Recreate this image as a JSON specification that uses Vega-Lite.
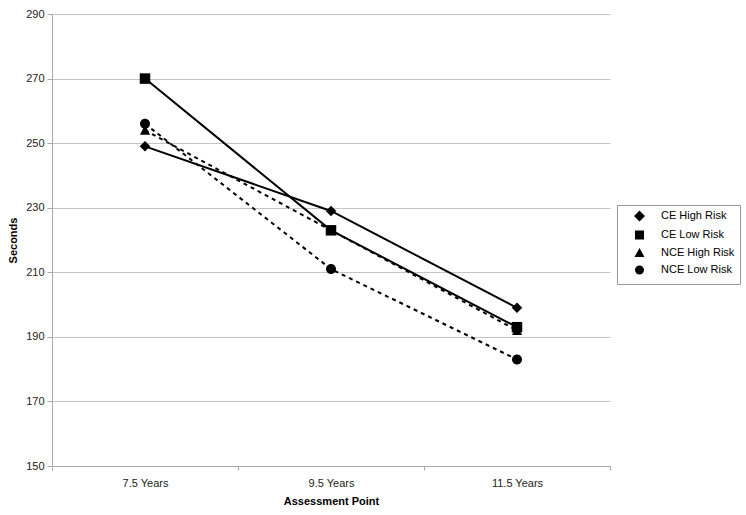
{
  "$schema": "https://vega.github.io/schema/vega-lite/v6.json",
  "width": 558,
  "height": 452,
  "autosize": {"type": "none"},
  "padding": {"left": 52, "top": 14, "right": 136, "bottom": 49},
  "background": "white",
  "config": {
    "font": "Liberation Sans",
    "view": {"stroke": null},
    "axis": {
      "labelFont": "Liberation Sans",
      "labelFontSize": 11,
      "labelColor": "#222",
      "titleFont": "Liberation Sans",
      "titleFontSize": 11,
      "titleFontWeight": "bold",
      "titleColor": "#000",
      "domainColor": "#aaa",
      "tickColor": "#aaa",
      "gridColor": "#c4c4c4",
      "tickSize": 5
    },
    "legend": {
      "orient": "none",
      "legendX": 565,
      "legendY": 191,
      "strokeColor": "#999",
      "fillColor": "white",
      "padding": 5,
      "rowPadding": 0,
      "symbolSize": 100,
      "symbolStrokeWidth": 2,
      "symbolStrokeColor": "black",
      "symbolFillColor": "black",
      "symbolOpacity": 1,
      "labelOffset": 27,
      "labelFont": "Liberation Sans",
      "labelFontSize": 11,
      "labelColor": "#000"
    }
  },
  "data": {
    "values": [
      {"point": "7.5 Years", "series": "CE High Risk", "seconds": 249},
      {"point": "9.5 Years", "series": "CE High Risk", "seconds": 229},
      {"point": "11.5 Years", "series": "CE High Risk", "seconds": 199},
      {"point": "7.5 Years", "series": "CE Low Risk", "seconds": 270},
      {"point": "9.5 Years", "series": "CE Low Risk", "seconds": 223},
      {"point": "11.5 Years", "series": "CE Low Risk", "seconds": 193},
      {"point": "7.5 Years", "series": "NCE High Risk", "seconds": 254},
      {"point": "9.5 Years", "series": "NCE High Risk", "seconds": 223},
      {"point": "11.5 Years", "series": "NCE High Risk", "seconds": 192},
      {"point": "7.5 Years", "series": "NCE Low Risk", "seconds": 256},
      {"point": "9.5 Years", "series": "NCE Low Risk", "seconds": 211},
      {"point": "11.5 Years", "series": "NCE Low Risk", "seconds": 183}
    ]
  },
  "encoding": {
    "x": {
      "field": "point",
      "type": "ordinal",
      "sort": ["7.5 Years", "9.5 Years", "11.5 Years"],
      "scale": {"type": "band", "paddingInner": 0, "paddingOuter": 0},
      "axis": {"title": "Assessment Point", "labelAngle": 0, "tickBand": "extent", "grid": false, "labelPadding": 7, "titlePadding": 7, "tickSize": 4}
    },
    "y": {
      "field": "seconds",
      "type": "quantitative",
      "scale": {"domain": [150, 290], "nice": false, "zero": false},
      "axis": {"title": "Seconds", "values": [150, 170, 190, 210, 230, 250, 270, 290], "labelPadding": 3, "titlePadding": 7}
    }
  },
  "layer": [
    {
      "transform": [{"filter": {"field": "series", "oneOf": ["CE High Risk", "CE Low Risk"]}}],
      "mark": {"type": "line", "color": "black", "strokeWidth": 2},
      "encoding": {"detail": {"field": "series"}}
    },
    {
      "transform": [{"filter": {"field": "series", "oneOf": ["NCE High Risk", "NCE Low Risk"]}}],
      "mark": {"type": "line", "color": "black", "strokeWidth": 2, "strokeDash": [4, 4]},
      "encoding": {"detail": {"field": "series"}}
    },
    {
      "transform": [{"filter": {"field": "series", "equal": "CE High Risk"}}],
      "mark": {"type": "point", "filled": true, "color": "black", "opacity": 1, "size": 100, "shape": "M0,-1.05L1.05,0L0,1.05L-1.05,0Z"}
    },
    {
      "transform": [{"filter": {"field": "series", "equal": "CE Low Risk"}}],
      "mark": {"type": "point", "filled": true, "color": "black", "opacity": 1, "size": 100, "shape": "M-1.05,-1.05H1.05V1.05H-1.05Z"}
    },
    {
      "transform": [{"filter": {"field": "series", "equal": "NCE High Risk"}}],
      "mark": {"type": "point", "filled": true, "color": "black", "opacity": 1, "size": 100, "shape": "M0,-1.1L1,0.9H-1Z"}
    },
    {
      "transform": [{"filter": {"field": "series", "equal": "NCE Low Risk"}}],
      "mark": {"type": "point", "filled": true, "color": "black", "opacity": 1, "size": 100, "shape": "M-1,0A1,1,0,1,0,1,0A1,1,0,1,0,-1,0Z"}
    },
    {
      "transform": [{"filter": "false"}],
      "mark": {"type": "point", "filled": true, "color": "black", "stroke": "black", "strokeWidth": 2, "opacity": 1, "size": 100},
      "encoding": {
        "shape": {
          "field": "series",
          "type": "nominal",
          "scale": {
            "domain": ["CE High Risk", "CE Low Risk", "NCE High Risk", "NCE Low Risk"],
            "range": [
              "M-1,0H5.6M2.3,-1.1L3.4,0L2.3,1.1L1.2,0Z",
              "M-1,0H5.6M1.4,-0.9H3.2V0.9H1.4Z",
              "M-1,0H5.6M2.3,-1L3.3,0.8H1.3Z",
              "M-1,0H5.6M1.4,0A0.9,0.9,0,1,0,3.2,0A0.9,0.9,0,1,0,1.4,0Z"
            ]
          },
          "legend": {"title": null}
        },
        "strokeDash": {
          "field": "series",
          "type": "nominal",
          "scale": {
            "domain": ["CE High Risk", "CE Low Risk", "NCE High Risk", "NCE Low Risk"],
            "range": [[1, 0], [1, 0], [4, 4], [4, 4]]
          },
          "legend": {"title": null}
        }
      }
    }
  ]
}
